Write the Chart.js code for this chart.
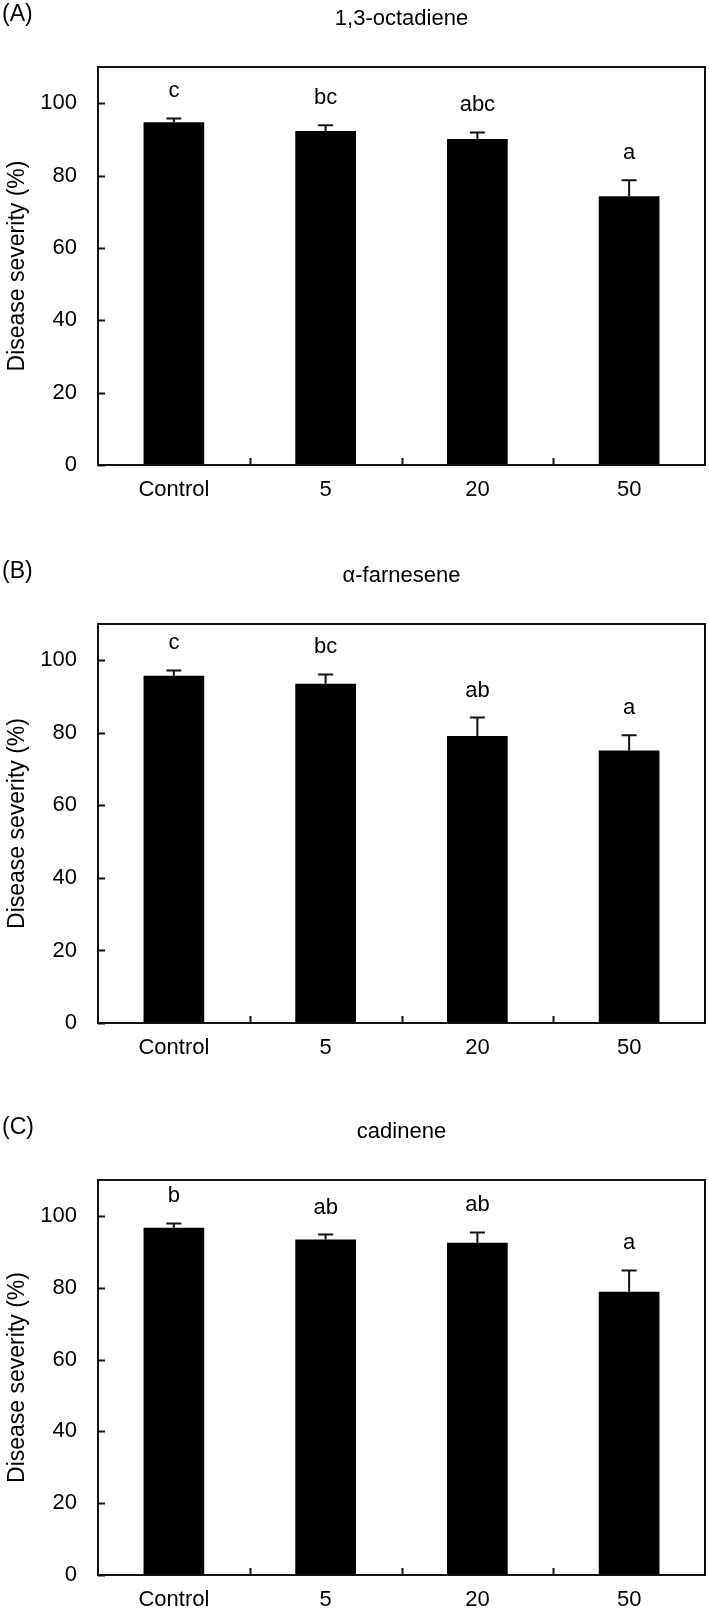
<!DOCTYPE html>
<html>
<head>
<meta charset="utf-8">
<script src="https://cdn.jsdelivr.net/npm/chart.js@4.4.1/dist/chart.umd.min.js"></script>
<style>
  html, body { margin: 0; padding: 0; background: #fff; }
  body { width: 709px; height: 1613px; overflow: hidden; position: relative; }
  .panel { position: absolute; left: 0; width: 709px; }
</style>
</head>
<body>
<div class="panel" style="top:0px"><canvas id="chartA" width="709" height="557"></canvas></div>
<div class="panel" style="top:557px"><canvas id="chartB" width="709" height="557"></canvas></div>
<div class="panel" style="top:1113px"><canvas id="chartC" width="709" height="557"></canvas></div>
<script>
// data
const categories = ['Control', '5', '20', '50'];
const yTicks = [0, 20, 40, 60, 80, 100];
const yMax = 110;

const panelLabels = ['(A)', '(B)', '(C)'];
const compoundNames = ['1,3-octadiene', 'α-farnesene', 'cadinene'];

const meansA = [94.7, 92.3, 90.1, 74.3];
const errorsA = [1.1, 1.6, 1.8, 4.4];
const lettersA = ['c', 'bc', 'abc', 'a'];

const meansB = [95.7, 93.5, 79.1, 75.1];
const errorsB = [1.5, 2.6, 5.1, 4.2];
const lettersB = ['c', 'bc', 'ab', 'a'];

const meansC = [96.7, 93.4, 92.5, 78.9];
const errorsC = [1.2, 1.4, 2.9, 5.9];
const lettersC = ['b', 'ab', 'ab', 'a'];

const FONT = '"Liberation Sans", Arial, sans-serif';
const fontSize = 22;
const canvasH = 557;
const zeroLines = [465, 466, 462];

const panels = [
  { id: 'chartA', means: meansA, errors: errorsA, letters: lettersA },
  { id: 'chartB', means: meansB, errors: errorsB, letters: lettersB },
  { id: 'chartC', means: meansC, errors: errorsC, letters: lettersC }
];

function makeDecor(idx, p) {
  return {
    id: 'decor' + idx,
    afterDatasetsDraw(chart) {
      const ctx = chart.ctx;
      const a = chart.chartArea;
      const xs = chart.scales.x;
      const ys = chart.scales.y;
      ctx.save();
      ctx.strokeStyle = '#111';
      ctx.fillStyle = '#000';
      ctx.lineWidth = 2;

      // frame
      ctx.strokeRect(a.left, a.top, a.right - a.left, a.bottom - a.top);

      // inward y ticks
      ctx.beginPath();
      yTicks.forEach(v => {
        const y = Math.round(ys.getPixelForValue(v)) + 0.5;
        ctx.moveTo(a.left, y);
        ctx.lineTo(a.left + 7, y);
      });
      // inward x ticks between categories
      for (let i = 1; i < categories.length; i++) {
        const x = Math.round((xs.getPixelForValue(i - 1) + xs.getPixelForValue(i)) / 2) + 0.5;
        ctx.moveTo(x, a.bottom);
        ctx.lineTo(x, a.bottom - 7);
      }
      ctx.stroke();

      // error bars + letters
      ctx.font = fontSize + 'px ' + FONT;
      ctx.textAlign = 'center';
      ctx.textBaseline = 'alphabetic';
      p.means.forEach((m, i) => {
        const x = xs.getPixelForValue(i);
        const yBar = ys.getPixelForValue(m);
        const yTop = ys.getPixelForValue(m + p.errors[i]);
        ctx.beginPath();
        ctx.moveTo(x, yBar);
        ctx.lineTo(x, yTop);
        ctx.moveTo(x - 7.5, yTop);
        ctx.lineTo(x + 7.5, yTop);
        ctx.stroke();
        ctx.fillText(p.letters[i], x, yTop - 21);
      });

      // title and panel label
      ctx.textBaseline = 'middle';
      ctx.fillText(compoundNames[idx], (a.left + a.right) / 2, 19);
      ctx.textAlign = 'left';
      ctx.font = '23px ' + FONT;
      ctx.fillText(panelLabels[idx], 2, 15);

      // y axis title
      ctx.translate(18, (a.top + a.bottom) / 2);
      ctx.rotate(-Math.PI / 2);
      ctx.textAlign = 'center';
      ctx.font = '23px ' + FONT;
      ctx.fillText('Disease severity (%)', 0, 0);
      ctx.restore();
    }
  };
}

panels.forEach((p, idx) => {
  const zeroY = zeroLines[idx];
  new Chart(document.getElementById(p.id), {
    type: 'bar',
    data: {
      labels: categories,
      datasets: [{
        data: p.means,
        backgroundColor: '#000',
        borderWidth: 0,
        barPercentage: 0.4,
        categoryPercentage: 1.0
      }]
    },
    options: {
      responsive: false,
      animation: false,
      devicePixelRatio: 1,
      layout: { padding: { top: 67, right: 4, left: 0, bottom: 0 } },
      plugins: { legend: { display: false }, tooltip: { enabled: false } },
      scales: {
        x: {
          grid: { display: false, drawTicks: false },
          border: { display: false },
          ticks: { color: '#000', font: { family: FONT, size: fontSize }, padding: 12, maxRotation: 0 },
          afterFit: s => { s.height = canvasH - zeroY; }
        },
        y: {
          min: 0,
          max: yMax,
          grid: { display: false, drawTicks: false },
          border: { display: false },
          ticks: { color: '#000', font: { family: FONT, size: fontSize }, padding: 21 },
          afterBuildTicks: s => { s.ticks = yTicks.map(v => ({ value: v })); },
          afterFit: s => { s.width = 98; }
        }
      }
    },
    plugins: [makeDecor(idx, p)]
  });
});
</script>
</body>
</html>
